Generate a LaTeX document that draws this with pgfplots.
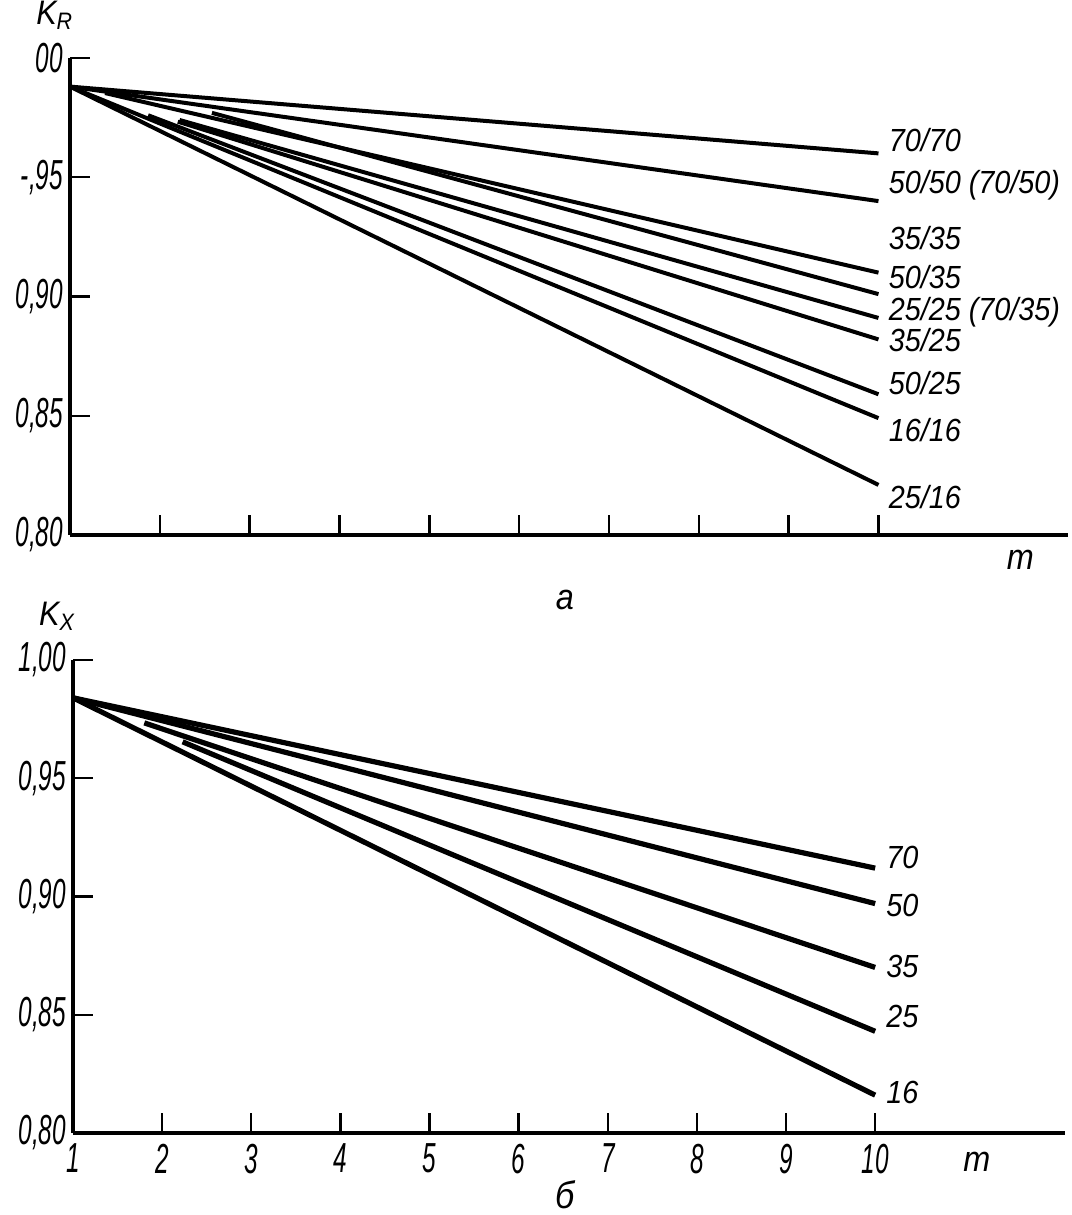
\documentclass[border=0pt]{standalone}
\usepackage{fontspec}
\setmainfont{Liberation Sans}[FakeStretch=0.9]
\newfontfamily\tickfont{Liberation Sans}[FakeStretch=0.58]
\usepackage{pgfplots}
\pgfplotsset{compat=1.18}

\pgfplotsset{
  panel/.style={
    scale only axis,
    axis lines=left,
    every outer x axis line/.append style={-},
    every outer y axis line/.append style={-},
    every inner x axis line/.append style={-},
    every inner y axis line/.append style={-},
    axis line style={-, line width=1.8pt, black},
    tick align=inside,
    major tick length=10pt,
    tick style={line width=1.2pt, black},
    xmin=1, ymin=0.80, ymax=1.00,
    xtick={1,...,10},
    ytick={0.80,0.85,0.90,0.95,1.00},
    ticklabel style={font=\tickfont\itshape\fontsize{21}{21}\selectfont},
    clip=false,
    cycle list={{black,solid,mark=none}},
  },
}
\tikzset{lab/.style={anchor=west, inner sep=0pt, font=\itshape\fontsize{16}{16}\selectfont}}

\begin{document}
\begin{tikzpicture}
\useasboundingbox (0,0) rectangle (535.5pt,607.5pt);

% a: K_R
\begin{axis}[panel,
  at={(35pt,340pt)}, anchor=south west,
  width=499pt, height=238.5pt, xmax=12.11,
  xticklabels={},
  yticklabels={{0,80},{0,85},{0,90},{-,95},{00}},
  every axis plot/.append style={line width=2pt},
  ]
  \addplot coordinates {(1,0.988) (10,0.960)};   % 70/70
  \addplot coordinates {(1,0.988) (10,0.940)};   % 50/50
  \addplot coordinates {(1.39,0.9853) (10,0.910)}; % 35/35
  \addplot coordinates {(2.58,0.977) (10,0.901)};  % 50/35
  \addplot coordinates {(2.22,0.974) (10,0.891)};  % 25/25
  \addplot coordinates {(2.20,0.9733) (10,0.882)}; % 35/25
  \addplot coordinates {(1.87,0.976) (10,0.859)};  % 50/25
  \addplot coordinates {(1,0.988) (10,0.849)};     % 16/16
  \addplot coordinates {(1,0.988) (10,0.821)};     % 25/16

  \node[lab] at (axis cs:10.11,0.9656) {70/70};
  \node[lab] at (axis cs:10.11,0.9468) {50/50 (70/50)};
  \node[lab] at (axis cs:10.11,0.9245) {35/35};
  \node[lab] at (axis cs:10.11,0.9082) {50/35};
  \node[lab] at (axis cs:10.11,0.8935) {25/25 (70/35)};
  \node[lab] at (axis cs:10.11,0.8818) {35/25};
  \node[lab] at (axis cs:10.11,0.8637) {50/25};
  \node[lab] at (axis cs:10.11,0.8440) {16/16};
  \node[lab] at (axis cs:10.11,0.8159) {25/16};

  \node[font=\itshape\fontsize{18}{18}\selectfont] at (axis cs:11.58,0.7895) {m};
  \node[font=\itshape\fontsize{18}{18}\selectfont] at (axis cs:6.51,0.7727) {a};
  \node[font=\itshape\fontsize{17}{17}\selectfont] at (axis cs:0.83,1.0180) {K\textsubscript{R}};
\end{axis}

% b: K_X
\begin{axis}[panel,
  at={(36.5pt,41pt)}, anchor=south west,
  width=496pt, height=236.5pt, xmax=12.13,
  xticklabels={1,2,3,4,5,6,7,8,9,10},
  xticklabel style={yshift=-2pt},
  yticklabels={{0,80},{0,85},{0,90},{0,95},{1,00}},
  every axis plot/.append style={line width=2.6pt},
  ]
  \addplot coordinates {(1,0.984) (10,0.912)};     % 70
  \addplot coordinates {(1,0.984) (10,0.897)};     % 50
  \addplot coordinates {(1.80,0.9734) (10,0.870)}; % 35
  \addplot coordinates {(2.23,0.9654) (10,0.843)}; % 25
  \addplot coordinates {(1,0.984) (10,0.816)};     % 16

  \node[lab] at (axis cs:10.12,0.9163) {70};
  \node[lab] at (axis cs:10.12,0.8964) {50};
  \node[lab] at (axis cs:10.12,0.8702) {35};
  \node[lab] at (axis cs:10.12,0.8491) {25};
  \node[lab] at (axis cs:10.12,0.8173) {16};

  \node[font=\itshape\fontsize{18}{18}\selectfont] at (axis cs:11.14,0.7880) {m};
  \node[font=\itshape\fontsize{19}{19}\selectfont] at (axis cs:6.52,0.7738) {б};
  \node[font=\itshape\fontsize{17}{17}\selectfont] at (axis cs:0.82,1.0185) {K\textsubscript{X}};
\end{axis}
\end{tikzpicture}
\end{document}
